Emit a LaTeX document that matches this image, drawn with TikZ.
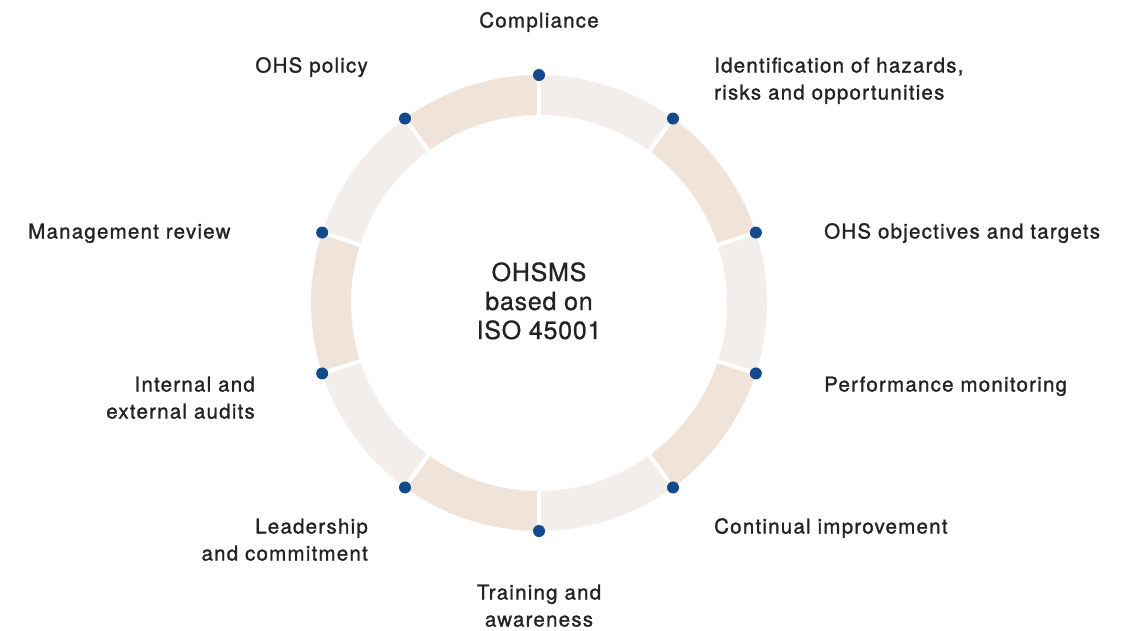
\documentclass[tikz,border=0pt]{standalone}
\usepackage{fontspec}
\setmainfont{TeX Gyre Heros}
\newfontfamily\lblfont[LetterSpace=6,FakeBold=1.2]{TeX Gyre Heros}
\newfontfamily\ctrfont[LetterSpace=3,FakeBold=0.8]{TeX Gyre Heros}
\usetikzlibrary{calc}
\definecolor{segA}{HTML}{F0E4DA}
\definecolor{segB}{HTML}{F3EEEB}
\definecolor{dotblue}{HTML}{134A8C}
\definecolor{txt}{HTML}{232323}
\begin{document}
\begin{tikzpicture}[x=1pt,y=1pt,
  lbl/.style={font=\lblfont\fontsize{20.5}{27}\selectfont, text=txt, inner sep=0pt},
  ctr/.style={font=\ctrfont\fontsize{25}{29}\selectfont, text=txt, inner sep=0pt, anchor=base},
  dotn/.style={circle, fill=dotblue, minimum size=12pt, inner sep=0pt}]
\useasboundingbox (0,0) rectangle (1131,-630);
\coordinate (C) at (539,-303);
\def\Ro{228}\def\Ri{188}
\foreach \i in {0,...,9}{
  \pgfmathsetmacro\a{90+36*\i}
  \pgfmathsetmacro\b{126+36*\i}
  \pgfmathtruncatemacro\odd{mod(\i,2)}
  \ifnum\odd=0 \def\col{segA}\else\def\col{segB}\fi
  \fill[\col] ($(C)+(\a:\Ro)$) arc[start angle=\a, end angle=\b, radius=\Ro]
     -- ($(C)+(\b:\Ri)$) arc[start angle=\b, end angle=\a, radius=\Ri] -- cycle;
}
\foreach \i in {0,...,9}{
  \pgfmathsetmacro\a{90+36*\i}
  \draw[white, line width=4pt] ($(C)+(\a:\Ri-2)$) -- ($(C)+(\a:\Ro+2)$);
  \node[dotn] (d\i) at ($(C)+(\a:\Ro)$) {};
}
\node[ctr] (center1) at (539,-281) {OHSMS};
\node[ctr] (center2) at (539,-310) {based on};
\node[ctr] (center3) at (539,-339) {ISO 45001};
\node[lbl, anchor=base] (compliance) at (539,-27.5) {Compliance};
\node[lbl, anchor=base east] (policy) at (368,-72.5) {OHS policy};
\node[lbl, anchor=base west] (ident1) at (714,-72.5) {Identification of hazards,};
\node[lbl, anchor=base west] (ident2) at (714,-99.5) {risks and opportunities};
\node[lbl, anchor=base west] (objectives) at (824,-238.5) {OHS objectives and targets};
\node[lbl, anchor=base west] (perf) at (824,-391.5) {Performance monitoring};
\node[lbl, anchor=base west] (cont) at (714,-533.5) {Continual improvement};
\node[lbl, anchor=base] (train1) at (539,-599.5) {Training and};
\node[lbl, anchor=base] (train2) at (539,-626.5) {awareness};
\node[lbl, anchor=base east] (lead1) at (368,-533.5) {Leadership};
\node[lbl, anchor=base east] (lead2) at (368,-560.5) {and commitment};
\node[lbl, anchor=base east] (audits1) at (255,-391.5) {Internal and};
\node[lbl, anchor=base east] (audits2) at (255,-418.5) {external audits};
\node[lbl, anchor=base west] (review) at (28,-238.5) {Management review};
\end{tikzpicture}
\end{document}
